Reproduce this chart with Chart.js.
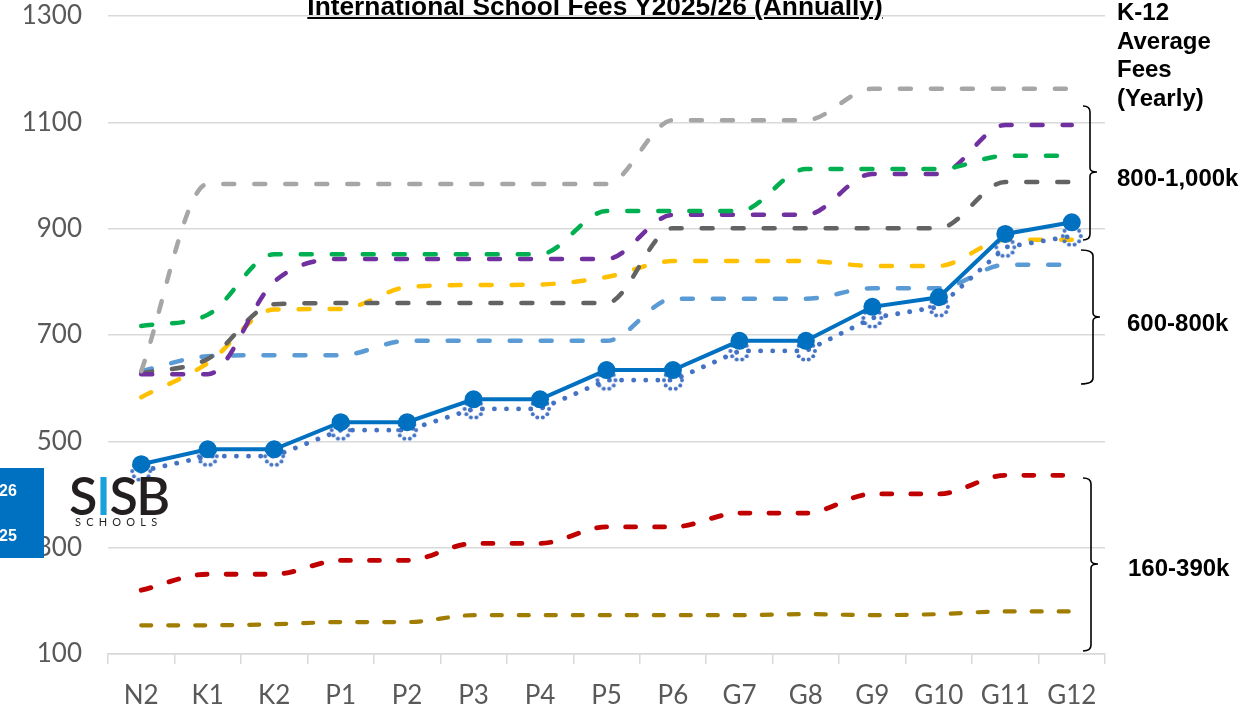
<!DOCTYPE html>
<html><head><meta charset="utf-8">
<script src="https://cdn.jsdelivr.net/npm/chart.js@4/dist/chart.umd.min.js"></script>
<style>
html,body{margin:0;padding:0;background:#fff;}
#wrap{position:relative;width:1244px;height:706px;overflow:hidden;background:#fff;}
#c{position:absolute;left:0;top:0;}
.t{position:absolute;font-family:"Liberation Sans",Arial,sans-serif;font-weight:bold;color:#000;white-space:nowrap;}
#svg{position:absolute;left:0;top:0;}
</style></head><body>
<div id="wrap">
<canvas id="c" width="1244" height="706"></canvas>
<div class="t" style="left:595px;top:-7px;font-size:26.3px;line-height:26px;transform:translateX(-50%);text-decoration:underline;text-decoration-thickness:2px;text-underline-offset:2px;">International School Fees Y2025/26 (Annually)</div>
<div class="t" style="left:1117px;top:-2px;font-size:24px;line-height:28.5px;">K-12<br>Average<br>Fees<br>(Yearly)</div>
<div class="t" style="left:1117px;top:164px;font-size:24px;line-height:28.5px;">800-1,000k</div>
<div class="t" style="left:1127px;top:309px;font-size:24px;line-height:28.5px;">600-800k</div>
<div class="t" style="left:1128px;top:554px;font-size:24px;line-height:28.5px;">160-390k</div>
<svg id="svg" width="1244" height="706">
<g fill="none" stroke="#000" stroke-width="1.6">
<path d="M1083,106 Q1090,106 1090,112 L1090,168 Q1090,172 1097,172 Q1090,172 1090,176 L1090,234 Q1090,240 1083,240"/>
<path d="M1081,250 Q1093,250 1093,256 L1093,313 Q1093,317 1100,317 Q1093,317 1093,321 L1093,378 Q1093,384 1081,384"/>
<path d="M1083,478 Q1091,478 1091,484 L1091,560 Q1091,564 1098,564 Q1091,564 1091,568 L1091,645 Q1091,651 1083,651"/>
</g>
</svg>
<div style="position:absolute;left:0;top:468px;width:44px;height:90px;background:#0070C0;"></div>
<div class="t" style="left:-1px;top:482px;font-size:16px;line-height:18px;color:#fff;">26</div>
<div class="t" style="left:-1px;top:527px;font-size:16px;line-height:18px;color:#fff;">25</div>
<div style="position:absolute;left:69px;top:467px;font-family:Lato,sans-serif;font-weight:600;font-size:52px;line-height:56px;color:#231F20;letter-spacing:-1.5px;white-space:nowrap;">S<span style="color:#1BA0DC">I</span>SB</div>
<div style="position:absolute;left:75px;top:515px;font-family:Lato,sans-serif;font-size:11px;line-height:14px;color:#231F20;letter-spacing:5.2px;white-space:nowrap;">SCHOOLS</div>
</div>
<script>
const grades = ['N2','K1','K2','P1','P2','P3','P4','P5','P6','G7','G8','G9','G10','G11','G12'];
const yTickMin = 100;
const yTickMax = 1300;
const yTickStep = 200;
const sisb2526 = [457,485,485,536,536,579,579,634,634,689,689,753,771,890,912];
const sisb2425 = [444,472,472,521,521,561,561,615,615,670,670,732,753,865,886];
const schoolA = [632,984,984,984,984,984,984,984,1104,1104,1104,1163,1163,1163,1163];
const schoolB = [717,738,852,852,852,852,852,933,933,933,1012,1012,1012,1037,1037];
const schoolC = [626,626,800,843,843,843,843,843,926,926,926,1003,1003,1095,1095];
const schoolD = [628,655,758,760,760,760,760,760,901,901,901,901,901,988,988];
const schoolE = [583,647,748,749,790,794,795,809,839,839,839,830,830,879,879];
const schoolF = [632,660,662,662,689,689,689,689,768,768,768,788,788,832,832];
const schoolG = [220,250,250,276,276,308,308,339,339,365,365,401,401,436,436];
const schoolH = [154,154,156,160,160,173,173,173,173,173,175,173,175,180,180];

function dottedMarker(){
  const cv = document.createElement('canvas');
  cv.width = 26; cv.height = 26;
  const g = cv.getContext('2d');
  g.fillStyle = '#4472C4';
  const n = 10;
  for (let i = 0; i < n; i++) {
    const a = i / n * Math.PI * 2;
    g.beginPath();
    g.arc(13 + 9 * Math.cos(a), 13 + 9 * Math.sin(a), 2, 0, Math.PI * 2);
    g.fill();
  }
  return cv;
}

function dashed(label, data, color, dash, width){
  return {label, data, borderColor: color, backgroundColor: color, borderWidth: width || 4.5,
    borderDash: dash || [11, 20], borderCapStyle: 'round', borderJoinStyle: 'round',
    pointRadius: 0, cubicInterpolationMode: 'monotone', fill: false};
}

new Chart(document.getElementById('c'), {
  type: 'line',
  data: {
    labels: grades,
    datasets: [
      {label: 'SISB Y2025/26', data: sisb2526, borderColor: '#0070C0', backgroundColor: '#0070C0',
        borderWidth: 4, pointRadius: 9, pointBorderWidth: 0, pointBackgroundColor: '#0070C0', tension: 0},
      {label: 'SISB Y2024/25', data: sisb2425, borderColor: '#4472C4', borderWidth: 4.8,
        borderDash: [0.1, 12], borderCapStyle: 'round', pointStyle: dottedMarker(), pointRadius: 9, tension: 0},
      dashed('School A', schoolA, '#A6A6A6'),
      dashed('School B', schoolB, '#00B050'),
      dashed('School C', schoolC, '#7030A0'),
      dashed('School D', schoolD, '#636363'),
      dashed('School E', schoolE, '#FFC000'),
      dashed('School F', schoolF, '#5B9BD5'),
      dashed('School G', schoolG, '#C00000', [10, 19], 4.8),
      dashed('School H', schoolH, '#A07D00', [10, 17], 4.2)
    ]
  },
  options: {
    responsive: false,
    animation: false,
    layout: {padding: {top: 16, right: 139, left: 0, bottom: 0}},
    plugins: {legend: {display: false}, title: {display: false}, tooltip: {enabled: false}},
    scales: {
      x: {
        offset: true,
        grid: {offset: true, drawOnChartArea: false, drawTicks: true, tickLength: 10, color: '#D9D9D9', lineWidth: 1.5},
        border: {display: true, color: '#D9D9D9', width: 1.5},
        ticks: {color: '#595959', font: {family: 'Lato', size: 26}, padding: 16, maxRotation: 0, autoSkip: false},
        afterFit: s => { s.height = 52; s.paddingLeft = 0; s.paddingRight = 0; }
      },
      y: {
        min: yTickMin, max: yTickMax,
        ticks: {stepSize: yTickStep, color: '#595959', font: {family: 'Lato', size: 26}, padding: 26,
          callback: v => String(v)},
        grid: {color: '#D9D9D9', lineWidth: 1.5, drawTicks: false},
        border: {display: false},
        afterFit: s => { s.width = 108; s.paddingTop = 0; s.paddingBottom = 0; }
      }
    }
  }
});
</script>
</body></html>
